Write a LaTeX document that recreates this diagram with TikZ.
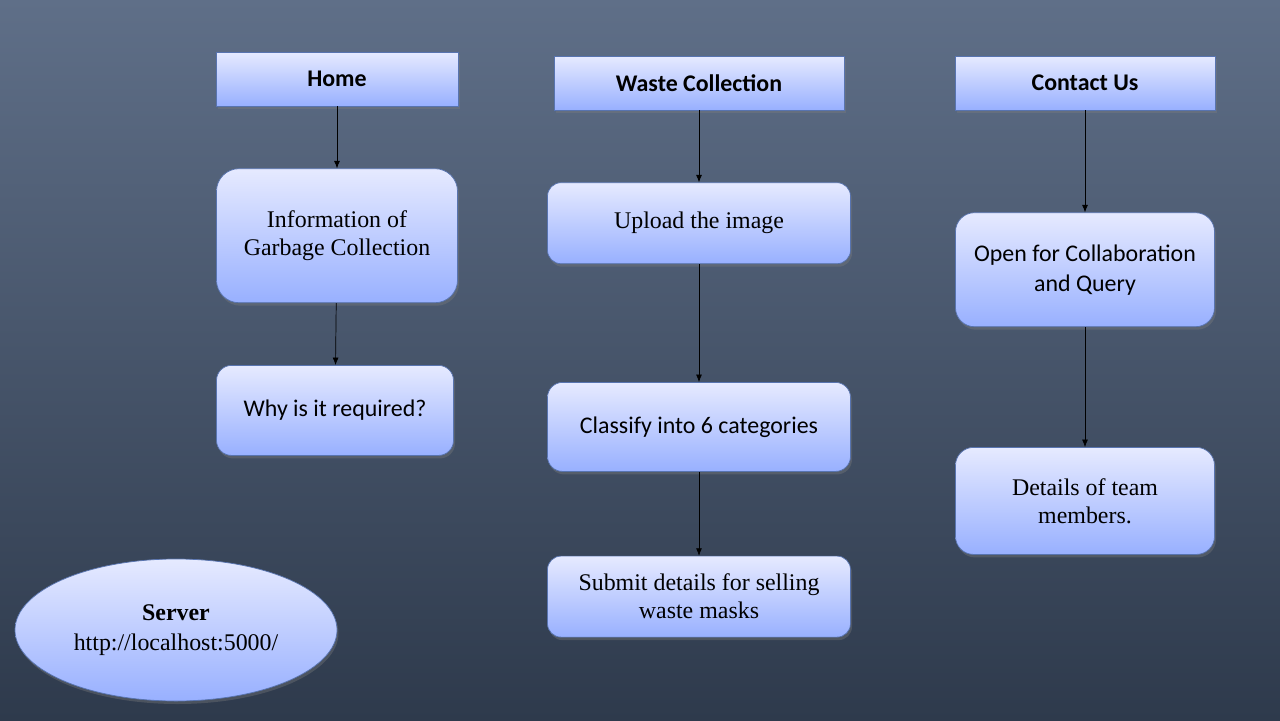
\documentclass[tikz,border=0pt]{standalone}
\usepackage{fontspec}
\setmainfont{Liberation Serif}
\newfontfamily\calfont{Carlito}
\usepackage{tikz}
\definecolor{bgtop}{HTML}{5F6F88}
\definecolor{bgbot}{HTML}{2E3A4C}
\definecolor{boxtop}{HTML}{E6EAFF}
\definecolor{boxbot}{HTML}{98B0FF}
\definecolor{boxline}{HTML}{5874B0}
\usetikzlibrary{shapes.geometric,arrows.meta,positioning,shadows}
\tikzstyle{box}=[draw=boxline, thin, top color=boxtop, bottom color=boxbot, align=center, inner sep=2pt,
  drop shadow={shadow xshift=.03cm, shadow yshift=-.06cm, opacity=.35}]
\tikzstyle{head}=[box, minimum height=1.08cm, font=\calfont\bfseries\fontsize{13.6}{16}\selectfont]
\tikzstyle{serif}=[box, font=\fontsize{13.6}{16}\selectfont]
\tikzstyle{sans}=[box, font=\calfont\fontsize{13.6}{17}\selectfont]
\tikzstyle{arrow}=[thin,-{Latex[length=.15cm,width=.12cm]},black]

\begin{document}
\begin{tikzpicture}
\shade[top color=bgtop, bottom color=bgbot] (0,0) rectangle (25.6,-14.4);
\useasboundingbox (0,0) rectangle (25.6,-14.4);

% Home column
\node (home) [head, minimum width=4.84cm] at (6.74,-1.58) {Home};
\node (info) [serif, below=1.24cm of home, minimum width=4.82cm, minimum height=2.68cm, rounded corners=.45cm] {Information of\\Garbage Collection};
\node (why) [sans, below=1.24cm of info, xshift=-.04cm, minimum width=4.74cm, minimum height=1.8cm, rounded corners=.3cm] {Why is it required?};

% Waste Collection column
\node (waste) [head, minimum width=5.8cm] at (13.98,-1.66) {Waste Collection};
\node (upload) [serif, below=1.44cm of waste, minimum width=6.06cm, minimum height=1.62cm, rounded corners=.27cm] {Upload the image};
\node (classify) [sans, below=2.36cm of upload, minimum width=6.06cm, minimum height=1.78cm, rounded corners=.3cm] {Classify into 6 categories};
\node (submit) [serif, below=1.68cm of classify, minimum width=6.06cm, minimum height=1.62cm, rounded corners=.27cm] {Submit details for selling\\waste masks};

% Contact Us column
\node (contact) [head, minimum width=5.2cm] at (21.7,-1.66) {Contact Us};
\node (open) [sans, below=2.04cm of contact, minimum width=5.18cm, minimum height=2.28cm, rounded corners=.38cm] {Open for Collaboration\\and Query};
\node (team) [serif, below=2.4cm of open, minimum width=5.18cm, minimum height=2.14cm, rounded corners=.36cm] {Details of team\\members.};

% server
\node (server) [serif, ellipse, minimum width=6.44cm, minimum height=2.84cm] at (3.52,-12.6) {\textbf{Server}\\[1pt]http://localhost:5000/};

\draw[arrow] (home) -- (info);
\draw[arrow] (info) -- (why);
\draw[arrow] (waste) -- (upload);
\draw[arrow] (upload) -- (classify);
\draw[arrow] (classify) -- (submit);
\draw[arrow] (contact) -- (open);
\draw[arrow] (open) -- (team);
\end{tikzpicture}
\end{document}
